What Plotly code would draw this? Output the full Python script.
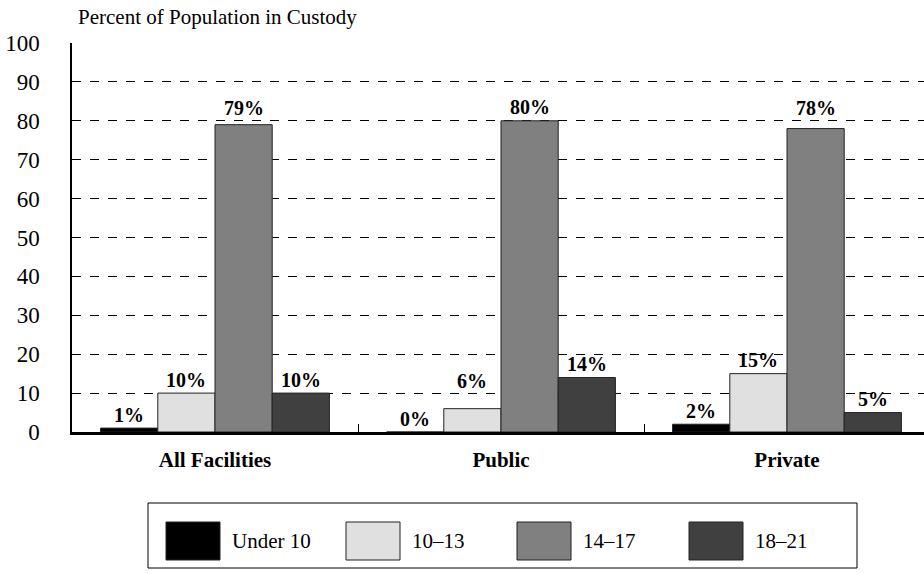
import plotly.graph_objects as go

categories = ["All Facilities", "Public", "Private"]
series_names = ["Under 10", "10–13", "14–17", "18–21"]
values = {
    "Under 10": [1, 0, 2],
    "10–13": [10, 6, 15],
    "14–17": [79, 80, 78],
    "18–21": [10, 14, 5],
}
colors = ["#000000", "#e0e0e0", "#808080", "#404040"]
y_ticks = [0, 10, 20, 30, 40, 50, 60, 70, 80, 90, 100]
y_title = "Percent of Population in Custody"

W, H = 924, 574
PL, PT, PB = 72, 43, 432          # plot area in page coordinates
ML, MT, MB, MR = PL, PT, H - PB, 0
PW, PH = W - PL, PB - PT
Y_MAX = 100

def px(x):
    return (x - PL) / PW

def py(y):
    return (PB - y) / PH

FONT = "Liberation Serif, Times New Roman, serif"
BARGAP = 0.2
n_series = len(series_names)
bar_w = (1 - BARGAP) / n_series

# label placement: small gap above bar; lift label clear of a dashed gridline it would cross
LABEL_GAP = 5       # px between bar top and label digits
DIGIT_H = 14        # px height of label digits
GRID_CLEAR = 4      # px clearance above a gridline
TEXT_BASE = 4.5     # px from annotation box bottom to digit baseline
unit_px = PH / Y_MAX

def label_shift(v):
    bottom = LABEL_GAP
    for g in y_ticks:
        d = (g - v) * unit_px
        if LABEL_GAP - 2 < d < LABEL_GAP + DIGIT_H:
            bottom = max(bottom, d + GRID_CLEAR)
    return bottom - TEXT_BASE

fig = go.Figure()
annotations = []
for si, (name, col) in enumerate(zip(series_names, colors)):
    vals = values[name]
    fig.add_trace(go.Bar(
        x=categories, y=vals, name=name,
        marker=dict(color=col, line=dict(color="#222222", width=1)),
        showlegend=False,
    ))
    offset = -(1 - BARGAP) / 2 + bar_w * (si + 0.5)
    for ci, v in enumerate(vals):
        annotations.append(dict(
            xref="x", yref="y", x=ci + offset, y=v,
            xanchor="center", yanchor="bottom", yshift=label_shift(v),
            text=f"<b>{v}%</b>", showarrow=False,
            font=dict(family=FONT, size=20, color="black"),
        ))

shapes = []
# legend box
shapes.append(dict(type="rect", xref="paper", yref="paper",
                   x0=px(148), x1=px(857), y0=py(503), y1=py(568),
                   line=dict(color="black", width=1), fillcolor="white"))
sw_x = [166, 346, 517, 689]
for i, (name, col) in enumerate(zip(series_names, colors)):
    x0 = sw_x[i]
    shapes.append(dict(type="rect", xref="paper", yref="paper",
                       x0=px(x0), x1=px(x0 + 54), y0=py(522), y1=py(560),
                       line=dict(color="#222222", width=1), fillcolor=col))
    annotations.append(dict(xref="paper", yref="paper", x=px(x0 + 64), y=py(541),
                            xanchor="left", yanchor="middle", text=name, showarrow=False,
                            font=dict(family=FONT, size=21, color="black")))

annotations.append(dict(xref="paper", yref="paper", x=px(76), y=py(17),
                        xanchor="left", yanchor="middle", text=y_title, showarrow=False,
                        font=dict(family=FONT, size=21, color="black")))

fig.update_layout(
    width=W, height=H,
    margin=dict(l=ML, r=MR, t=MT, b=MB),
    paper_bgcolor="white", plot_bgcolor="white",
    barmode="group", bargap=BARGAP, bargroupgap=0,
    font=dict(family=FONT, color="black"),
    shapes=shapes, annotations=annotations,
    showlegend=False,
)
fig.update_yaxes(
    range=[0, Y_MAX], tickvals=y_ticks, ticktext=[str(t) for t in y_ticks],
    showgrid=True, gridcolor="black", griddash="dash", gridwidth=1,
    showline=True, linecolor="black", linewidth=1.5,
    ticks="", ticklabelstandoff=26,
    tickfont=dict(family=FONT, size=23, color="black"),
    zeroline=False,
)
fig.update_xaxes(
    range=[-0.5, 2.479],
    showline=True, linecolor="black", linewidth=2.5,
    ticks="inside", tickson="boundaries", ticklen=8, tickcolor="black",
    ticklabelstandoff=7,
    tickfont=dict(family=FONT, size=21, color="black", weight="bold"),
    showgrid=False,
)

fig.write_html("out.html", config={"displayModeBar": False},
               post_script="document.body.style.margin='0px';")
